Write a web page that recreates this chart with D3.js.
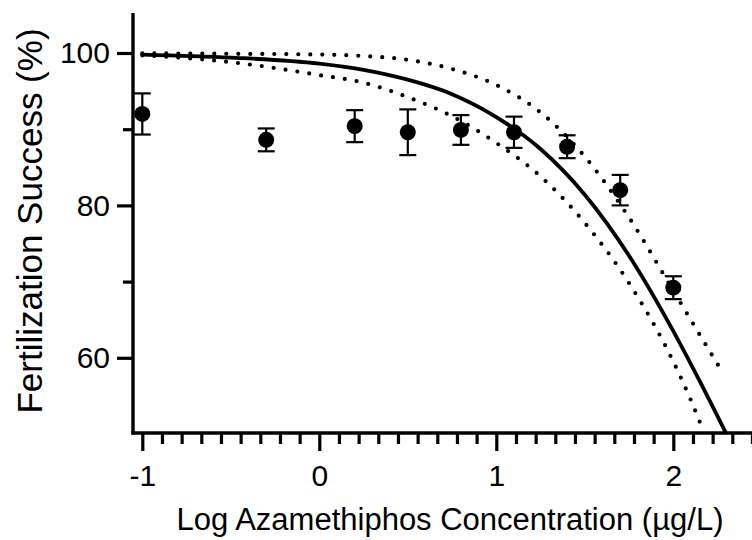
<html><head><title>Fertilization Success vs Azamethiphos</title>
<style>
    body {
        margin: 0;
        background-color: #ffffff;
    }
    svg {
        display: block;
        font-family: Arial, 'Liberation Sans', sans-serif;
    }
</style>
<script src="https://cdnjs.cloudflare.com/ajax/libs/d3/7.8.5/d3.min.js"></script>
</head>
<body>
<div id="chart"></div>

<script>
// Observed means (+/- SEM) at each log concentration
const logConc = [-1, -0.3, 0.2, 0.5, 0.8, 1.1, 1.4, 1.7, 2.0];
const meanSuccess = [92.0, 88.6, 90.4, 89.6, 89.9, 89.6, 87.7, 82.0, 69.2];
const semSuccess = [2.7, 1.5, 2.1, 3.0, 1.95, 2.05, 1.5, 2.0, 1.5];

// Fitted curve
const fitX = [-1, -0.5, 0, 0.25, 0.5, 0.75, 1.0, 1.25, 1.5, 1.75, 2.0, 2.15, 2.3];
const fitY = [99.8, 99.4, 98.6, 97.8, 96.5, 94.6, 91.6, 87.4, 81.4, 73.4, 63.5, 56.9, 50.0];

// 95% confidence bands
const upperX = [-1, -0.5, 0, 0.25, 0.5, 0.75, 1.0, 1.25, 1.5, 1.75, 2.0, 2.15, 2.27];
const upperY = [99.95, 99.9, 99.8, 99.6, 99.1, 97.9, 95.8, 92.2, 86.4, 78.4, 68.8, 63.0, 58.4];
const lowerX = [-1, -0.5, 0, 0.25, 0.5, 0.75, 1.0, 1.25, 1.5, 1.75, 2.0, 2.1, 2.17];
const lowerY = [99.7, 98.8, 97.1, 96.1, 94.2, 91.7, 88.2, 83.8, 77.7, 69.8, 59.5, 54.4, 50.4];

const xMajorTicks = [-1, 0, 1, 2];
const yMajorTicks = [60, 80, 100];
const yMinorTicks = [70, 90];

const width = 752;
const height = 540;

const x = d3.scaleLinear().domain([-1, 2]).range([142.3, 673.3]);
const y = d3.scaleLinear().domain([50, 105.25]).range([434, 13]);

const svg = d3.select("#chart")
    .append("svg")
    .attr("width", width)
    .attr("height", height);

// minor x ticks: 8 between each pair of majors
const xMinorTicks = [];
for (let k = -1; k < 3; k++) {
    for (let j = 1; j <= 8; j++) {
        const v = k + j / 9;
        if (x(v) < width + 2) xMinorTicks.push(v);
    }
}

// plain hyphen for negatives, like the original
const plain = d => String(d);

const xAxisMajor = d3.axisBottom(x).tickValues(xMajorTicks).tickSize(18).tickPadding(14).tickFormat(plain);
const xAxisMinor = d3.axisBottom(x).tickValues(xMinorTicks).tickSize(11).tickFormat("");
const yAxisMajor = d3.axisLeft(y).tickValues(yMajorTicks).tickSize(16).tickPadding(7).tickFormat(plain);
const yAxisMinor = d3.axisLeft(y).tickValues(yMinorTicks).tickSize(10).tickFormat("");

const xg = svg.append("g").attr("transform", "translate(0,433)");
xg.append("g").call(xAxisMinor);
xg.append("g").call(xAxisMajor);

const yg = svg.append("g").attr("transform", "translate(133,0)");
yg.append("g").call(yAxisMinor);
yg.append("g").call(yAxisMajor);

svg.selectAll(".domain").remove();
svg.selectAll(".tick line").attr("stroke", "#000").attr("stroke-width", 3.2);
svg.selectAll(".tick text")
    .attr("fill", "#000")
    .style("font-size", "30px")
    .style("font-family", "Arial, 'Liberation Sans', sans-serif");

// axis lines
svg.append("line")
    .attr("x1", 133).attr("x2", 133)
    .attr("y1", y(105.25)).attr("y2", 434.6)
    .attr("stroke", "#000").attr("stroke-width", 3.4);
svg.append("line")
    .attr("x1", 131.3).attr("x2", width + 5)
    .attr("y1", 433).attr("y2", 433)
    .attr("stroke", "#000").attr("stroke-width", 3.4);

const line = d3.line()
    .x(d => x(d[0]))
    .y(d => y(d[1]))
    .curve(d3.curveMonotoneX);

// confidence bands
svg.append("path")
    .datum(d3.zip(upperX, upperY))
    .attr("d", line)
    .attr("fill", "none")
    .attr("stroke", "#000")
    .attr("stroke-width", 4.2)
    .attr("stroke-linecap", "round")
    .attr("stroke-dasharray", "0 12");

svg.append("path")
    .datum(d3.zip(lowerX, lowerY))
    .attr("d", line)
    .attr("fill", "none")
    .attr("stroke", "#000")
    .attr("stroke-width", 4.2)
    .attr("stroke-linecap", "round")
    .attr("stroke-dasharray", "0 12");

// fitted curve
svg.append("path")
    .datum(d3.zip(fitX, fitY))
    .attr("d", line)
    .attr("fill", "none")
    .attr("stroke", "#000")
    .attr("stroke-width", 3.8);

// error bars
const points = d3.zip(logConc, meanSuccess, semSuccess);
const bars = svg.append("g")
    .selectAll("g")
    .data(points)
    .enter().append("g")
    .attr("stroke", "#000")
    .attr("stroke-width", 2.2);

bars.append("line")
    .attr("x1", d => x(d[0])).attr("x2", d => x(d[0]))
    .attr("y1", d => y(d[1] + d[2])).attr("y2", d => y(d[1] - d[2]));
bars.append("line")
    .attr("x1", d => x(d[0]) - 8.5).attr("x2", d => x(d[0]) + 8.5)
    .attr("y1", d => y(d[1] + d[2])).attr("y2", d => y(d[1] + d[2]));
bars.append("line")
    .attr("x1", d => x(d[0]) - 8.5).attr("x2", d => x(d[0]) + 8.5)
    .attr("y1", d => y(d[1] - d[2])).attr("y2", d => y(d[1] - d[2]));

svg.append("g")
    .selectAll("circle")
    .data(points)
    .enter().append("circle")
    .attr("cx", d => x(d[0]))
    .attr("cy", d => y(d[1]))
    .attr("r", 8)
    .attr("fill", "#000");

// axis titles
svg.append("text")
    .attr("x", 450)
    .attr("y", 530)
    .attr("text-anchor", "middle")
    .style("font-size", "31px")
    .text("Log Azamethiphos Concentration (µg/L)");

svg.append("text")
    .attr("transform", "translate(42,221) rotate(-90)")
    .attr("text-anchor", "middle")
    .style("font-size", "35px")
    .text("Fertilization Success (%)");
</script>
</body>
</html>
